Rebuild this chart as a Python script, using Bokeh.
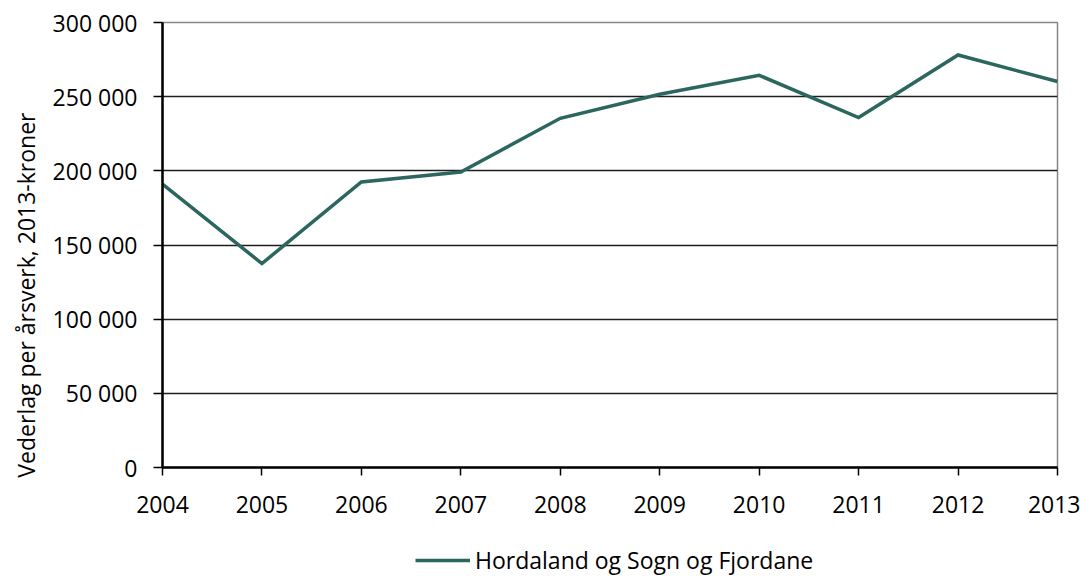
from bokeh.plotting import figure
from bokeh.models import (Range1d, FixedTicker, Legend, LegendItem, Title)
from bokeh.layouts import column
from bokeh.embed import file_html
from bokeh.resources import INLINE

years = [2004, 2005, 2006, 2007, 2008, 2009, 2010, 2011, 2012, 2013]
values = [191000, 137500, 192500, 199200, 235400, 251600, 264400, 235900, 278100, 260200]
series_name = "Hordaland og Sogn og Fjordane"
y_label = "Vederlag per årsverk, 2013-kroner"
y_ticks = [0, 50000, 100000, 150000, 200000, 250000, 300000]
y_tick_labels = ["0", "50 000", "100 000", "150 000", "200 000", "250 000", "300 000"]

FONT = "Open Sans"
FS = "23px"
LINE_COLOR = "#2b665f"

p = figure(width=1080, height=528, output_backend="svg", toolbar_location=None,
           x_range=Range1d(2004, 2013), y_range=Range1d(0, 300000),
           min_border_left=162, min_border_right=23, min_border_top=22,
           min_border_bottom=61)
p.background_fill_color = "white"
p.border_fill_color = "white"
p.outline_line_color = "#868686"
p.outline_line_width = 1.5

r = p.line(years, values, line_color=LINE_COLOR, line_width=3.5, line_join="miter")

# axes
p.xaxis.ticker = FixedTicker(ticks=years)
p.yaxis.ticker = FixedTicker(ticks=y_ticks)
p.yaxis.major_label_overrides = {t: l for t, l in zip(y_ticks, y_tick_labels)}
for ax in (p.xaxis[0], p.yaxis[0]):
    ax.axis_line_color = "black"
    ax.axis_line_width = 2.5
    ax.major_tick_line_color = "black"
    ax.major_tick_line_width = 1.5
    ax.major_tick_in = 0
    ax.minor_tick_line_color = None
    ax.major_label_text_font = FONT
    ax.major_label_text_font_size = FS
    ax.major_label_text_color = "black"
p.yaxis.major_tick_out = 9
p.yaxis.major_label_standoff = 16
p.xaxis.major_tick_out = 8
p.xaxis.major_label_standoff = 20

# grid
p.xgrid.grid_line_color = None
p.ygrid.ticker = FixedTicker(ticks=y_ticks[1:-1])
p.ygrid.grid_line_color = "#1e1e1e"
p.ygrid.grid_line_width = 1.6

# y label as a side title, shifted down like the reference
ttl = Title(text=y_label, align="right", offset=90, standoff=15,
            text_font=FONT, text_font_size="23px", text_font_style="normal",
            text_color="black")
p.add_layout(ttl, "left")

# legend strip below the chart (its sample line lies outside this strip's ranges)
p2 = figure(width=1080, height=48, output_backend="svg", toolbar_location=None,
            x_range=Range1d(0, 1), y_range=Range1d(0, 1),
            x_axis_type=None, y_axis_type=None, min_border=0)
p2.outline_line_color = None
p2.background_fill_color = "white"
p2.border_fill_color = "white"
r2 = p2.line(years, values, line_color=LINE_COLOR, line_width=3.5)
legend = Legend(items=[LegendItem(label=series_name, renderers=[r2])],
                location=(253, 0), orientation="horizontal",
                glyph_width=55, glyph_height=30, label_standoff=5,
                label_text_font=FONT, label_text_font_size=FS,
                label_text_color="black",
                border_line_color=None, background_fill_alpha=0,
                padding=0, margin=0)
p2.add_layout(legend, "center")

open("out.html", "w").write(file_html(column(p, p2), INLINE))
